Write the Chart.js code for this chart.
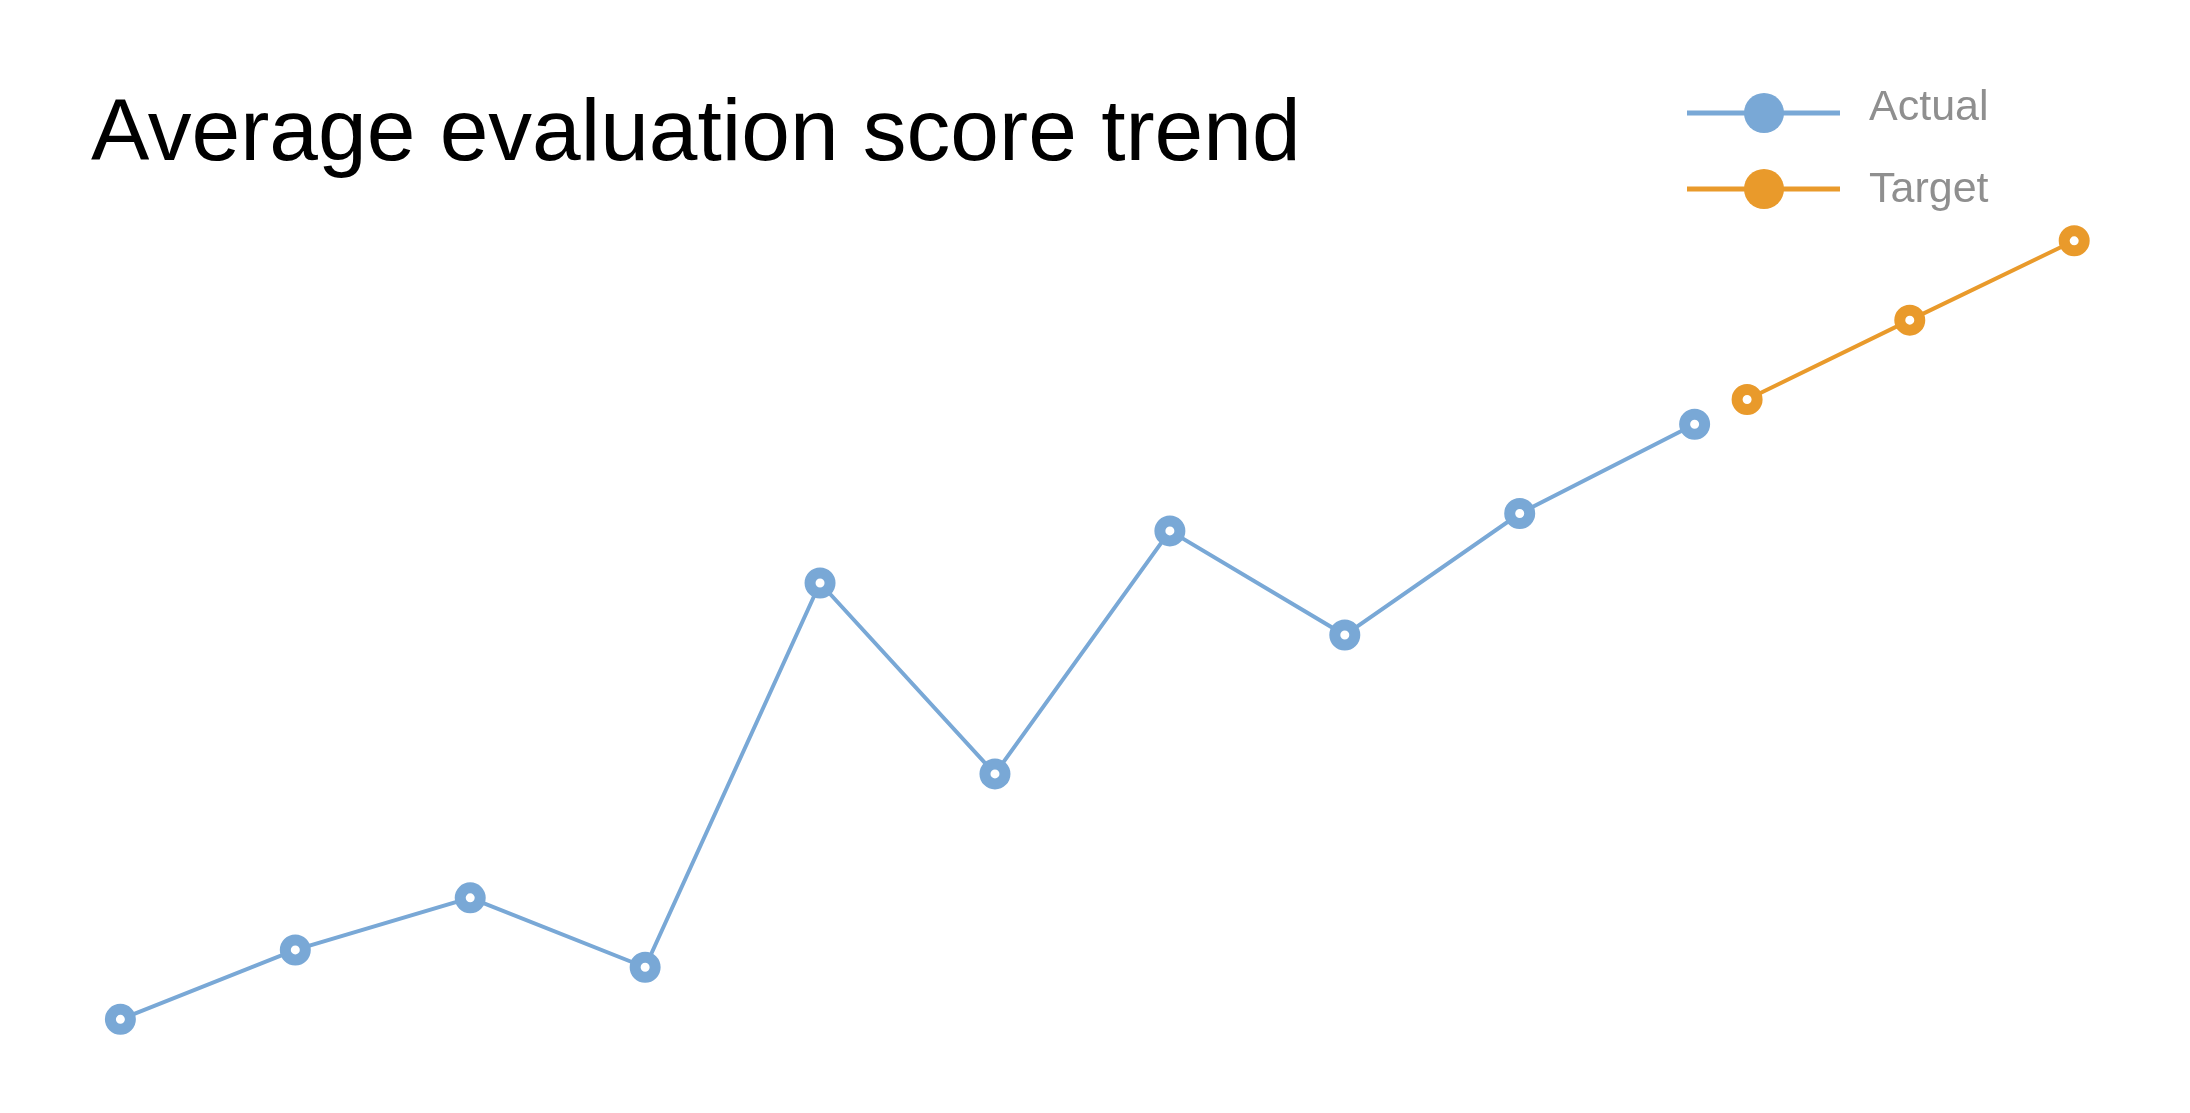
<!DOCTYPE html>
<html>
<head>
<meta charset="utf-8">
<title>Average evaluation score trend</title>
<script src="https://cdn.jsdelivr.net/npm/chart.js@4.4.1/dist/chart.umd.min.js"></script>
<style>
  html, body { margin: 0; padding: 0; background: #fff; }
  #wrap { position: relative; width: 2190px; height: 1113px; }
</style>
</head>
<body>
<div id="wrap"><canvas id="trendChart"></canvas></div>
<script>
// data (x = period index, y = score)
const actualX = [0, 1, 2, 3, 4, 5, 6, 7, 8, 9];
const actualY = [60.0, 62.8, 64.9, 62.1, 77.6, 69.9, 79.7, 75.5, 80.4, 84.0];
const targetX = [9.3, 10.23, 11.17];
const targetY = [85.0, 88.2, 91.4];
const seriesNames = ['Actual', 'Target'];
const seriesColors = ['#79a8d6', '#e99a2b'];

const FONT = "'Liberation Sans', Arial, Helvetica, sans-serif";

const toPoints = (xs, ys) => xs.map((x, i) => ({ x: x, y: ys[i] }));

// legend: line with a filled dot, stacked at the top right
const legendRows = [{ line: 113, text: 108 }, { line: 189, text: 190 }];
const cornerLegend = {
    id: 'cornerLegend',
    afterDraw(chart) {
        const ctx = chart.ctx;
        ctx.save();
        chart.data.datasets.forEach((ds, i) => {
            const row = legendRows[i];
            ctx.strokeStyle = ds.borderColor;
            ctx.lineWidth = 5;
            ctx.beginPath();
            ctx.moveTo(1687, row.line);
            ctx.lineTo(1840, row.line);
            ctx.stroke();
            ctx.fillStyle = ds.borderColor;
            ctx.beginPath();
            ctx.arc(1764, row.line, 20, 0, Math.PI * 2);
            ctx.fill();
            ctx.fillStyle = '#8f8f8f';
            ctx.font = '43px ' + FONT;
            ctx.textAlign = 'left';
            ctx.textBaseline = 'middle';
            ctx.fillText(ds.label, 1869, row.text);
        });
        ctx.restore();
    }
};

const lineStyle = (color) => ({
    borderColor: color,
    backgroundColor: color,
    borderWidth: 4,
    pointRadius: 10,
    pointBorderWidth: 11,
    pointBackgroundColor: '#ffffff',
    pointBorderColor: color,
    tension: 0,
    fill: false,
    clip: false
});

new Chart(document.getElementById('trendChart'), {
    type: 'line',
    data: {
        datasets: [
            { label: seriesNames[0], data: toPoints(actualX, actualY), ...lineStyle(seriesColors[0]) },
            { label: seriesNames[1], data: toPoints(targetX, targetY), ...lineStyle(seriesColors[1]) }
        ]
    },
    options: {
        responsive: true,
        maintainAspectRatio: false,
        animation: false,
        layout: { padding: { left: 91, top: 40, right: 0, bottom: 0 } },
        plugins: {
            legend: { display: false },
            tooltip: { enabled: false },
            title: {
                display: true,
                text: 'Average evaluation score trend',
                align: 'start',
                color: '#000000',
                font: { family: FONT, size: 87.5, weight: 'normal', lineHeight: 1.2 },
                padding: { top: 43, bottom: 0 }
            }
        },
        scales: {
            x: { type: 'linear', display: false, min: -0.168, max: 11.712 },
            y: { display: false, min: 57.07, max: 93.53 }
        }
    },
    plugins: [cornerLegend]
});
</script>
</body>
</html>
